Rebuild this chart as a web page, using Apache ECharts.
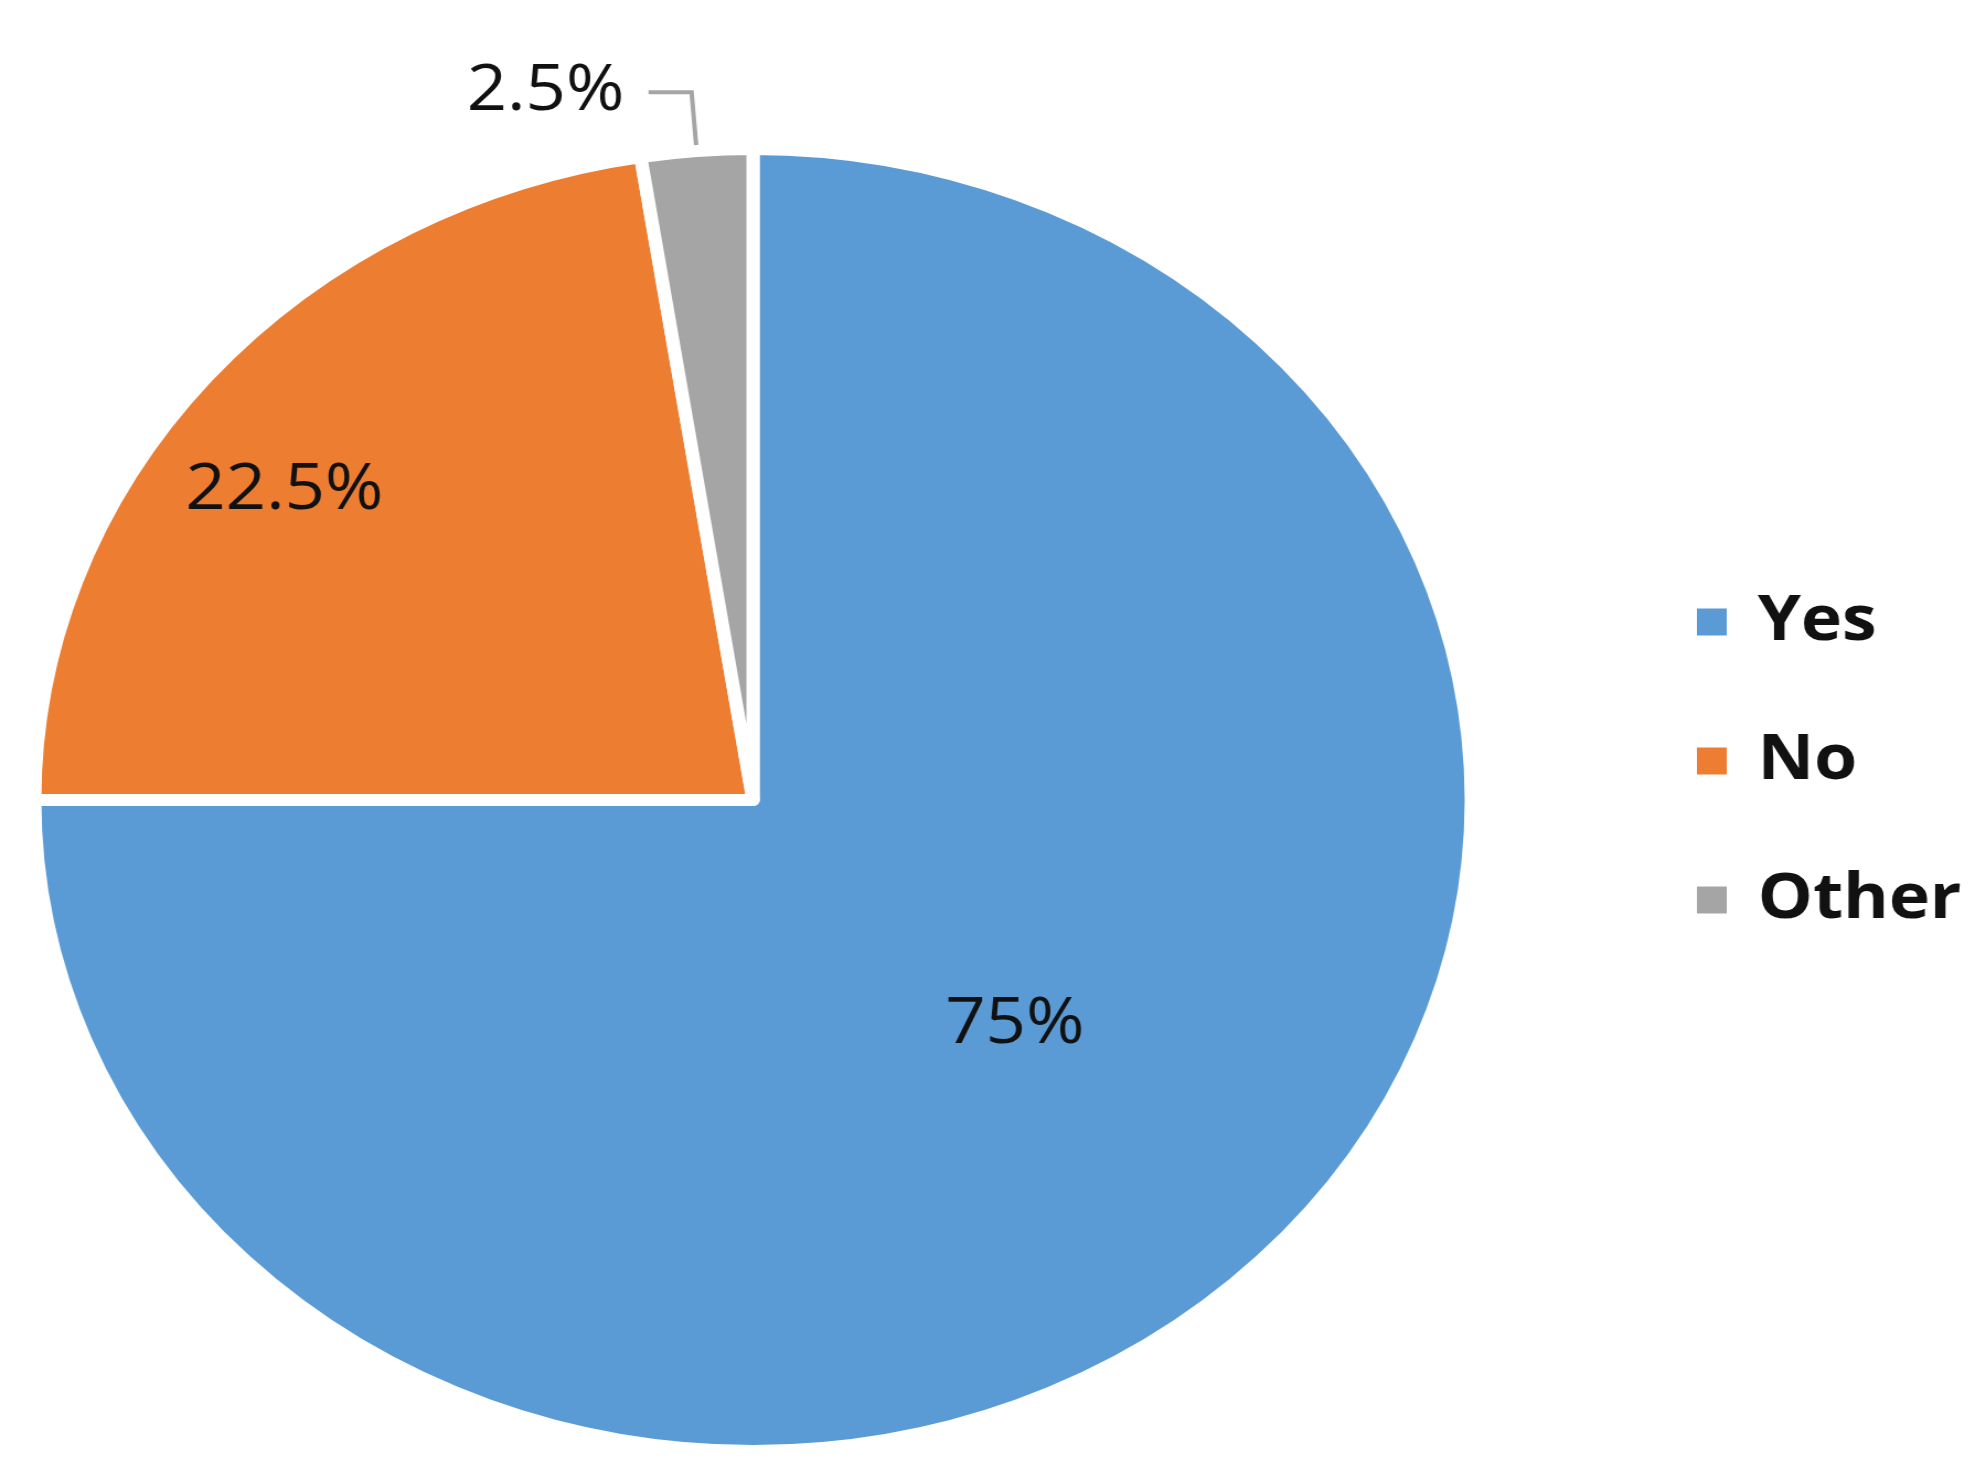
<!DOCTYPE html>
<html>
<head>
<meta charset="utf-8">
<script src="https://cdn.jsdelivr.net/npm/echarts@6/dist/echarts.min.js"></script>
<style>
html, body { margin: 0; padding: 0; background: #fff; overflow: hidden; }
#wrap { width: 1986px; height: 1479px; overflow: hidden; }
#chart { width: 1800px; height: 1479px; transform: scaleX(1.10333); transform-origin: 0 0; }
</style>
</head>
<body>
<div id="wrap"><div id="chart"></div></div>
<script>
const categories = ['Yes', 'No', 'Other'];
const values = [75, 22.5, 2.5];
const labels = ['75%', '22.5%', '2.5%'];
const colors = ['#5B9BD5', '#ED7D31', '#A5A5A5'];

const chart = echarts.init(document.getElementById('chart'), null, { renderer: 'canvas' });
const data = categories.map((c, i) => {
  const d = { name: c, value: values[i], itemStyle: { color: colors[i] } };
  if (i === 2) {
    d.label = { position: 'outside', padding: [0, 0, 54, 0] };
    d.labelLine = { show: true, length: 59, length2: 39, lineStyle: { color: '#A5A5A5', width: 4 } };
  }
  return d;
});

chart.setOption({
  animation: false,
  backgroundColor: '#ffffff',
  legend: {
    orient: 'vertical',
    left: 1531,
    top: 582,
    icon: 'rect',
    itemWidth: 29,
    itemHeight: 29,
    itemGap: 69,
    data: categories,
    textStyle: { fontFamily: 'Open Sans', fontWeight: 'bold', fontSize: 63, color: '#111', lineHeight: 70, padding: [0, 0, 0, 22] },
    selectedMode: false
  },
  series: [{
    type: 'pie',
    center: [682.5, 800],
    radius: 651,
    startAngle: 90,
    clockwise: true,
    avoidLabelOverlap: false,
    silent: true,
    itemStyle: { borderColor: '#ffffff', borderWidth: 12 },
    label: {
      show: true,
      position: 'inside',
      formatter: p => labels[p.dataIndex],
      fontFamily: 'Open Sans',
      fontSize: 64,
      color: '#111',
      distanceToLabelLine: 22
    },
    labelLine: { show: false },
    labelLayout: function (p) {
      if (p.dataIndex === 0) return { dx: 5, dy: -8 };
      if (p.dataIndex === 1) return { dx: -175, dy: -96 };
      return {};
    },
    data: data
  }]
});
</script>
</body>
</html>
